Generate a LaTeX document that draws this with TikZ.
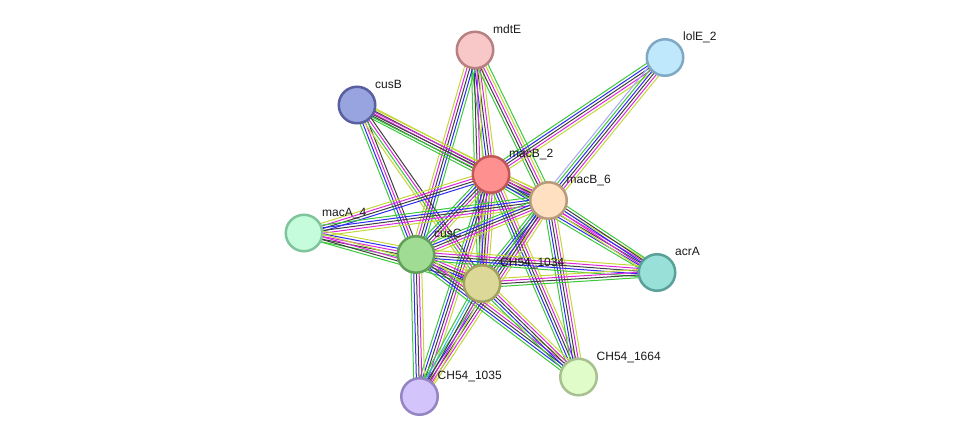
\documentclass[tikz,border=0pt]{standalone}
\usepackage{fontspec}
\setmainfont{Liberation Sans}
\usetikzlibrary{calc,backgrounds}
\definecolor{G}{HTML}{3CC83C}
\definecolor{B}{HTML}{2C2CF0}
\definecolor{M}{HTML}{DC28DC}
\definecolor{K}{HTML}{404040}
\definecolor{Y}{HTML}{C4D638}
\definecolor{C}{HTML}{30B8D8}
\definecolor{L}{HTML}{A8A8F8}
\newcount\bcnt
\newcommand\bundle[3]{%
  \global\bcnt=0
  \foreach \cc in {#3}{\global\advance\bcnt by 1}%
  \foreach \cc [count=\ii] in {#3}{%
    \pgfmathsetmacro\off{(\ii-(\the\bcnt+1)/2)*2.7}%
    \draw[\cc,line width=1pt] let \p1=($(#2)-(#1)$), \n1={atan2(\y1,\x1)+90} in
      ($(#1)+(\n1:\off pt)$) -- ($(#2)+(\n1:\off pt)$);
  }%
}
\tikzset{
  prot/.style={circle,minimum size=36.5pt,inner sep=0pt,line width=2.5pt},
  lab/.style={anchor=base west,font=\fontsize{12}{14}\selectfont,inner sep=0pt,text=black!90}
}
\begin{document}
\begin{tikzpicture}[x=1pt,y=-1pt]
\useasboundingbox (0,0) rectangle (976,442);
\node[prot,fill={rgb,255:red,248;green,200;blue,200},draw={rgb,255:red,184;green,128;blue,128}] (mdtE) at (475,50) {};
\node[prot,fill={rgb,255:red,192;green,232;blue,252},draw={rgb,255:red,128;green,168;blue,196}] (lolE) at (665,57.5) {};
\node[prot,fill={rgb,255:red,152;green,164;blue,224},draw={rgb,255:red,88;green,96;blue,160}] (cusB) at (357,105) {};
\node[prot,fill={rgb,255:red,255;green,144;blue,144},draw={rgb,255:red,192;green,88;blue,88}] (macBb) at (491,174.5) {};
\node[prot,fill={rgb,255:red,255;green,224;blue,192},draw={rgb,255:red,184;green,154;blue,124}] (macBf) at (548.5,200.5) {};
\node[prot,fill={rgb,255:red,196;green,252;blue,220},draw={rgb,255:red,128;green,196;blue,156}] (macA) at (304,233) {};
\node[prot,fill={rgb,255:red,160;green,220;blue,148},draw={rgb,255:red,96;green,160;blue,88}] (cusC) at (416,254.5) {};
\node[prot,fill={rgb,255:red,220;green,216;blue,152},draw={rgb,255:red,160;green,160;blue,96}] (cA) at (482,283.5) {};
\node[prot,fill={rgb,255:red,152;green,224;blue,216},draw={rgb,255:red,88;green,160;blue,152}] (acrA) at (657,272.5) {};
\node[prot,fill={rgb,255:red,224;green,252;blue,200},draw={rgb,255:red,168;green,192;blue,144}] (cC) at (578.5,377) {};
\node[prot,fill={rgb,255:red,212;green,196;blue,252},draw={rgb,255:red,148;green,132;blue,196}] (cB) at (419.5,396.5) {};
\node[lab] (lmdtE) at ($(mdtE)+(18,-17)$) {mdtE};
\node[lab] (llolE) at ($(lolE)+(18,-17)$) {lolE\_2};
\node[lab] (lcusB) at ($(cusB)+(18,-17)$) {cusB};
\node[lab] (lmacBb) at ($(macBb)+(18,-17)$) {macB\_2};
\node[lab] (lmacBf) at ($(macBf)+(18,-17)$) {macB\_6};
\node[lab] (lmacA) at ($(macA)+(18,-17)$) {macA\_4};
\node[lab] (lcusC) at ($(cusC)+(18,-17)$) {cusC};
\node[lab] (lcA) at ($(cA)+(18,-17)$) {CH54\_1034};
\node[lab] (lacrA) at ($(acrA)+(18,-17)$) {acrA};
\node[lab] (lcC) at ($(cC)+(18,-17)$) {CH54\_1664};
\node[lab] (lcB) at ($(cB)+(18,-17)$) {CH54\_1035};
\begin{pgfonlayer}{background}
\bundle{mdtE}{macBb}{G,B,K,M,Y}
\bundle{mdtE}{cA}{G,K,M,Y}
\bundle{mdtE}{cusC}{Y,M,K,B,G}
\bundle{mdtE}{macBf}{G,K,M,Y,G}
\bundle{lolE}{macBb}{G,B,K,M,Y}
\bundle{lolE}{macBf}{L,G,B,K,M,Y}
\bundle{cusB}{macBb}{G,K,M,K,Y}
\bundle{cusB}{macBf}{G,K,M,Y}
\bundle{cusB}{cusC}{G,B,M,K}
\bundle{cusB}{cA}{Y,G,M,K}
\bundle{macBb}{macBf}{G,B,K,M,Y}
\bundle{macBb}{macA}{Y,M,K,B}
\bundle{macBb}{cusC}{G,B,K,M,Y}
\bundle{macBb}{cA}{G,B,K,M,Y}
\bundle{macBb}{acrA}{G,B,K,M,Y}
\bundle{macBb}{cC}{G,B,K,M,Y}
\bundle{macBb}{cB}{G,B,K,M,Y}
\bundle{macBf}{macA}{G,B,K,M,Y}
\bundle{macBf}{cusC}{G,B,K,M,Y}
\bundle{macBf}{cA}{G,B,K,M,Y}
\bundle{macBf}{acrA}{Y,M,B,K,G}
\bundle{macBf}{cC}{G,B,K,M,Y}
\bundle{macBf}{cB}{G,B,K,M,Y}
\bundle{macA}{cusC}{G,K,M,B,Y}
\bundle{macA}{cA}{G,K,M,Y}
\bundle{cusC}{cA}{G,B,K,M,Y}
\bundle{cusC}{acrA}{G,B,K,M,Y}
\bundle{cusC}{cC}{G,B,K,M,Y}
\bundle{cusC}{cB}{G,B,K,M,Y}
\bundle{cA}{acrA}{G,K,M,Y}
\bundle{cA}{cC}{G,B,K,M,Y}
\bundle{cA}{cB}{G,C,K,M,Y}
\end{pgfonlayer}
\end{tikzpicture}
\end{document}
